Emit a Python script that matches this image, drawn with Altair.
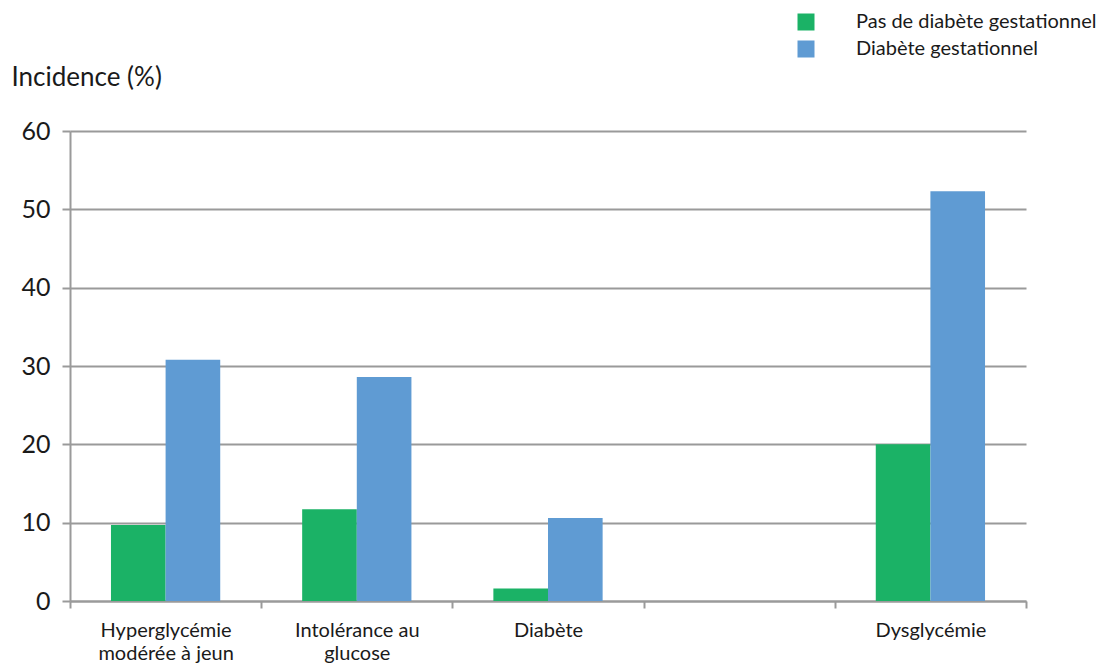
import altair as alt
import pandas as pd

# Categories (the fourth slot is intentionally left empty)
categories = ["Hyperglycémie\nmodérée à jeun", "Intolérance au\nglucose", "Diabète", " ", "Dysglycémie"]
bar_categories = ["Hyperglycémie\nmodérée à jeun", "Intolérance au\nglucose", "Diabète", "Dysglycémie"]
series = ["Pas de diabète gestationnel", "Diabète gestationnel"]
no_gdm = [9.7, 11.7, 1.6, 20.0]
gdm = [30.8, 28.6, 10.6, 52.3]
colors = ["#1BB266", "#5F9BD3"]

rows = []
for cat, a, b in zip(bar_categories, no_gdm, gdm):
    rows.append({"categorie": cat, "groupe": series[0], "incidence": a})
    rows.append({"categorie": cat, "groupe": series[1], "incidence": b})
df = pd.DataFrame(rows)

FONT = "Lato"
TEXT = "#1a1a1a"
GRAY = "#9a9a9a"

chart = alt.Chart(df).mark_bar().encode(
    x=alt.X(
        "categorie:N",
        sort=categories,
        scale=alt.Scale(domain=categories, paddingInner=0, paddingOuter=0),
        axis=alt.Axis(
            title=None,
            labelAngle=0,
            labelExpr="split(datum.label, '\\n')",
            labelFont=FONT,
            labelFontSize=20,
            labelColor=TEXT,
            labelPadding=12,
            labelLineHeight=23,
            labelLimit=300,
            domainColor=GRAY,
            domainWidth=2,
            tickColor=GRAY,
            tickWidth=2,
            tickSize=7,
            tickBand="extent",
            grid=False,
        ),
    ),
    xOffset=alt.XOffset(
        "groupe:N",
        sort=series,
        scale=alt.Scale(domain=series, paddingInner=0, paddingOuter=0.75),
    ),
    y=alt.Y(
        "incidence:Q",
        scale=alt.Scale(domain=[0, 60], nice=False),
        axis=alt.Axis(
            title="Incidence (%)",
            titleAngle=0,
            titleAlign="left",
            titleBaseline="alphabetic",
            titleX=-59,
            titleY=-46,
            titleFont=FONT,
            titleFontSize=26,
            titleFontWeight="normal",
            titleColor=TEXT,
            values=[0, 10, 20, 30, 40, 50, 60],
            labelFont=FONT,
            labelFontSize=25,
            labelColor=TEXT,
            labelPadding=12,
            domainColor=GRAY,
            domainWidth=2,
            tickColor=GRAY,
            tickWidth=2,
            tickSize=8,
            gridColor=GRAY,
            gridWidth=2,
        ),
    ),
    color=alt.Color(
        "groupe:N",
        sort=series,
        scale=alt.Scale(domain=series, range=colors),
        legend=alt.Legend(
            title=None,
            orient="none",
            legendX=726,
            legendY=-119,
            symbolType="square",
            symbolSize=289,
            symbolStrokeWidth=0,
            symbolOpacity=1,
            labelFont=FONT,
            labelFontSize=20,
            labelColor=TEXT,
            labelOffset=40,
            labelLimit=400,
            rowPadding=7,
        ),
    ),
).properties(
    width=956,
    height=470,
    padding={"left": 70, "top": 131, "right": 82, "bottom": 63},
    autosize="none",
).configure_view(stroke=None)

chart.save("out.html", embed_options={"renderer": "svg", "actions": False})
